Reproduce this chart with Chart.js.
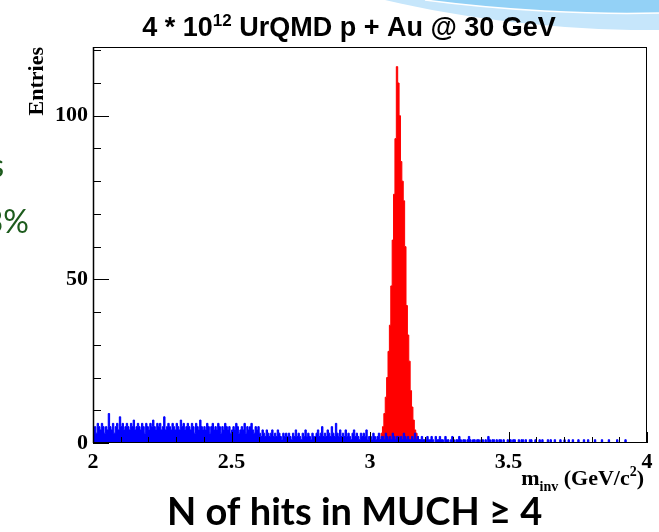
<!DOCTYPE html>
<html>
<head>
<meta charset="utf-8">
<script src="https://cdn.jsdelivr.net/npm/chart.js@4.4.0/dist/chart.umd.min.js"></script>
<style>
  html, body { margin: 0; padding: 0; background: #fff; }
  #wrap { width: 659px; height: 532px; position: relative; overflow: hidden; }
</style>
</head>
<body>
<div id="wrap"><canvas id="massChart" width="659" height="532"></canvas></div>
<script>
// Invariant mass histogram, 0.005 GeV bins
const binStart = 2.0;
const binWidth = 0.005;

// Background (blue), 2.0 - 4.0 GeV, one row per 0.1 GeV
const backgroundCounts = [
    4,5,3,6,5,4,6,5,3,5, 4,9,5,4,6,3,5,6,4,8,
    5,6,4,5,6,5,4,6,5,7, 4,5,6,5,4,6,5,3,6,5,
    4,6,5,7,5,4,6,5,6,4, 5,8,4,5,6,5,4,6,5,4,
    6,5,4,7,5,6,4,5,6,5, 4,6,5,3,6,5,4,7,5,4,
    5,4,6,5,3,5,6,4,5,4, 6,5,3,5,4,6,5,4,5,3,
    4,5,4,6,5,3,4,5,4,6, 3,5,4,5,6,4,3,5,4,5,
    3,2,4,3,2,4,3,2,3,4, 2,3,2,4,3,2,1,3,2,3,
    2,3,2,1,3,2,4,2,3,2, 1,3,2,4,2,3,2,1,3,2,
    2,3,4,2,3,5,2,3,2,4, 3,2,5,3,2,6,3,2,4,2,
    3,2,4,2,3,2,1,3,4,2, 3,2,1,3,2,3,2,4,1,2,
    2,1,3,2,1,2,3,1,2,2, 1,3,2,1,2,1,3,2,1,2,
    2,1,2,1,3,2,1,2,1,1, 2,1,3,1,2,1,1,2,1,1,
    1,2,1,1,2,1,0,2,1,1, 2,1,1,0,2,1,1,0,1,2,
    1,0,1,1,2,1,0,1,1,0, 1,2,1,0,1,1,0,1,1,0,
    1,1,0,1,0,2,1,0,1,1, 0,1,0,1,1,0,1,0,0,1,
    0,1,0,1,1,0,0,1,0,1, 1,0,1,0,0,1,1,0,0,1,
    0,0,1,0,1,0,0,0,1,0, 1,0,0,1,0,0,0,1,0,0,
    1,0,0,1,0,0,1,0,0,0, 1,0,0,0,1,0,0,1,0,0,
    0,0,1,0,0,0,0,1,0,0, 0,0,1,0,0,0,0,0,1,0,
    0,0,0,0,1,0,0,0,0,0, 0,0,0,0,0,0,0,0,0,0
];

// J/psi signal (red), starting at 3.035 GeV
const signalStart = 3.035;
const signalCounts = [
    1, 3, 5, 9, 14, 20, 28, 36, 48, 62,
    76, 93, 115, 110, 100, 86, 80, 74, 60, 42,
    33, 25, 16, 11, 7, 4, 3, 2, 1
];

const xTickValues = [2, 2.5, 3, 3.5, 4];
const yTickValues = [0, 50, 100];
const xRange = [2, 4];
const yRange = [0, 121];

// Build step points: value of a point holds until the next bin edge
function toSteps(start, counts) {
    const pts = counts.map((c, i) => ({ x: start + i * binWidth, y: c }));
    pts.push({ x: start + counts.length * binWidth, y: 0 });
    return pts;
}

const serif = '"Liberation Serif", "DejaVu Serif", serif';
const sans = '"Liberation Sans", Arial, sans-serif';

// Draw text made of pieces (normal / sub / sup)
function drawPieces(ctx, pieces, x, y, align) {
    let total = 0;
    pieces.forEach(p => { ctx.font = p.font; total += ctx.measureText(p.text).width; });
    let cx = align === 'center' ? x - total / 2 : align === 'right' ? x - total : x;
    ctx.textAlign = 'left';
    ctx.textBaseline = 'alphabetic';
    pieces.forEach(p => {
        ctx.font = p.font;
        ctx.fillText(p.text, cx, y + (p.dy || 0));
        cx += ctx.measureText(p.text).width;
    });
}

// Slide decoration behind the chart
const slideBackdrop = {
    id: 'slideBackdrop',
    beforeDraw(chart) {
        const ctx = chart.ctx;
        ctx.save();
        ctx.fillStyle = '#fff';
        ctx.fillRect(0, 0, chart.width, chart.height);
        ctx.fillStyle = '#c6e6fb';
        ctx.beginPath();
        ctx.moveTo(385, 0);
        ctx.bezierCurveTo(470, 20, 570, 31, 659, 30);
        ctx.lineTo(659, 0);
        ctx.closePath();
        ctx.fill();
        ctx.fillStyle = '#93d1f6';
        ctx.beginPath();
        ctx.moveTo(425, 0);
        ctx.bezierCurveTo(500, 10, 590, 15, 659, 13);
        ctx.lineTo(659, 0);
        ctx.closePath();
        ctx.fill();
        ctx.strokeStyle = '#ffffff';
        ctx.lineWidth = 1.5;
        ctx.beginPath();
        ctx.moveTo(425, 0);
        ctx.bezierCurveTo(500, 10, 590, 15, 659, 13);
        ctx.stroke();
        ctx.restore();
    }
};

// ROOT style frame with inward ticks
const frameTicks = {
    id: 'frameTicks',
    afterDatasetsDraw(chart) {
        const { ctx, chartArea: a, scales: { x, y } } = chart;
        ctx.save();
        ctx.strokeStyle = '#000';
        ctx.lineWidth = 1;
        ctx.beginPath();
        for (let v = 0; v <= yRange[1]; v += 10) {
            const py = Math.round(y.getPixelForValue(v)) + 0.5;
            const len = v % 50 === 0 ? 16 : 8;
            ctx.moveTo(a.left, py);
            ctx.lineTo(a.left + len, py);
        }
        for (let i = 0; i <= 20; i++) {
            const px = Math.round(x.getPixelForValue(xRange[0] + i * 0.1)) + 0.5;
            const len = i % 5 === 0 ? 11 : 6;
            ctx.moveTo(px, a.bottom);
            ctx.lineTo(px, a.bottom - len);
        }
        ctx.stroke();
        ctx.strokeRect(a.left + 0.5, a.top + 0.5, a.right - a.left - 1, a.bottom - a.top - 1);
        ctx.lineWidth = 1.5;
        ctx.beginPath();
        ctx.moveTo(a.left + 0.5, a.top);
        ctx.lineTo(a.left + 0.5, a.bottom);
        ctx.stroke();
        ctx.restore();
    },
    afterDraw(chart) {
        const ctx = chart.ctx;
        ctx.save();
        ctx.fillStyle = '#000';

        // Title
        drawPieces(ctx, [
            { text: '4 * 10', font: 'bold 27px ' + sans },
            { text: '12', font: 'bold 17px ' + sans, dy: -10 },
            { text: ' UrQMD p + Au @ 30 GeV', font: 'bold 27px ' + sans }
        ], 349, 36, 'center');

        // Y axis title
        ctx.save();
        ctx.translate(43, 47);
        ctx.rotate(-Math.PI / 2);
        ctx.font = 'bold 22px ' + serif;
        ctx.textAlign = 'right';
        ctx.fillText('Entries', 0, 0);
        ctx.restore();

        // X axis title
        drawPieces(ctx, [
            { text: 'm', font: 'bold 22px ' + serif },
            { text: 'inv', font: 'bold 14px ' + serif, dy: 6 },
            { text: ' (GeV/c', font: 'bold 22px ' + serif },
            { text: '2', font: 'bold 14px ' + serif, dy: -9 },
            { text: ')', font: 'bold 22px ' + serif }
        ], 644, 485, 'right');

        // Slide caption
        ctx.font = 'bold 38px Lato, "Open Sans", sans-serif';
        ctx.textAlign = 'left';
        ctx.fillText('N of hits in MUCH \u2265 4', 167, 525);

        // Cut-off slide text on the left
        ctx.fillStyle = '#1d5b1d';
        ctx.font = '32px Lato, "Open Sans", sans-serif';
        ctx.textAlign = 'right';
        ctx.fillText('s', 4, 177);
        ctx.fillText('3%', 29, 233);
        ctx.restore();
    }
};

const ctx = document.getElementById('massChart').getContext('2d');
const massChart = new Chart(ctx, {
    type: 'line',
    data: {
        datasets: [
            {
                label: 'Background',
                data: toSteps(binStart, backgroundCounts),
                stepped: true,
                fill: 'origin',
                backgroundColor: '#0000ff',
                borderColor: '#0000ff',
                borderWidth: 1,
                pointRadius: 0,
                order: 0
            },
            {
                label: 'Signal',
                data: toSteps(signalStart, signalCounts),
                stepped: true,
                fill: 'origin',
                backgroundColor: '#ff0000',
                borderColor: '#ff0000',
                borderWidth: 1,
                pointRadius: 0,
                order: 1
            }
        ]
    },
    options: {
        responsive: false,
        animation: false,
        layout: { padding: { top: 47, right: 12, bottom: 0, left: 0 } },
        plugins: {
            legend: { display: false },
            tooltip: { enabled: false }
        },
        scales: {
            x: {
                type: 'linear',
                min: xRange[0],
                max: xRange[1],
                grid: { display: false, drawTicks: false },
                border: { display: false },
                afterBuildTicks: scale => { scale.ticks = xTickValues.map(v => ({ value: v })); },
                afterFit: scale => { scale.height = 89; },
                ticks: {
                    autoSkip: false,
                    maxRotation: 0,
                    padding: 6,
                    color: '#000',
                    font: { family: serif, size: 22, weight: 'bold' },
                    callback: v => String(v)
                }
            },
            y: {
                min: yRange[0],
                max: yRange[1],
                grid: { display: false, drawTicks: false },
                border: { display: false },
                afterBuildTicks: scale => { scale.ticks = yTickValues.map(v => ({ value: v })); },
                afterFit: scale => { scale.width = 93; },
                ticks: {
                    padding: 5,
                    color: '#000',
                    font: { family: serif, size: 22, weight: 'bold' },
                    callback: v => String(v)
                }
            }
        }
    },
    plugins: [slideBackdrop, frameTicks]
});
</script>
</body>
</html>
